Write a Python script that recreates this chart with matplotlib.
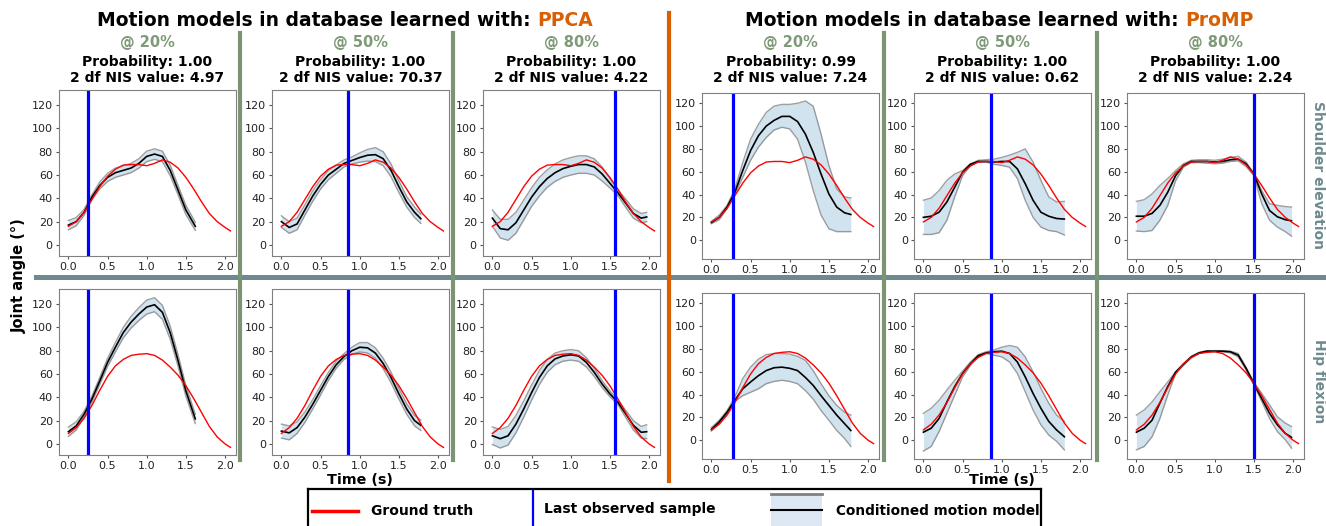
import matplotlib
matplotlib.use("Agg")
import numpy as np
import matplotlib.pyplot as plt
from matplotlib.lines import Line2D
from matplotlib.patches import Rectangle

#%% DATA
t_gt = [0.0, 0.1, 0.2, 0.3, 0.4, 0.5, 0.6, 0.7, 0.8, 0.9, 1.0, 1.1, 1.2, 1.3, 1.4, 1.5, 1.6, 1.7, 1.8, 1.9, 2.0, 2.07]
gt_shoulder = [16, 20, 28, 39, 50, 59, 65, 68.5, 69, 69, 68, 70, 73, 71, 66, 58, 48, 37, 27, 20, 15, 12]
gt_hip = [9, 14, 22, 33, 46, 58, 67, 72.5, 76, 77, 77.5, 76, 72, 66, 59, 50, 39, 27, 15, 6, 0, -3]

t_162 = [0.0, 0.1, 0.2, 0.3, 0.4, 0.5, 0.6, 0.7, 0.8, 0.9, 1.0, 1.1, 1.2, 1.3, 1.4, 1.5, 1.62]
t_178 = [0.0, 0.1, 0.2, 0.3, 0.4, 0.5, 0.6, 0.7, 0.8, 0.9, 1.0, 1.1, 1.2, 1.3, 1.4, 1.5, 1.6, 1.7, 1.78]
t_180 = [0.0, 0.1, 0.2, 0.3, 0.4, 0.5, 0.6, 0.7, 0.8, 0.9, 1.0, 1.1, 1.2, 1.3, 1.4, 1.5, 1.6, 1.7, 1.8]
t_197 = [0.0, 0.1, 0.2, 0.3, 0.4, 0.5, 0.6, 0.7, 0.8, 0.9, 1.0, 1.1, 1.2, 1.3, 1.4, 1.5, 1.6, 1.7, 1.8, 1.9, 1.97]
t_198 = [0.0, 0.1, 0.2, 0.3, 0.4, 0.5, 0.6, 0.7, 0.8, 0.9, 1.0, 1.1, 1.2, 1.3, 1.4, 1.5, 1.6, 1.7, 1.8, 1.9, 1.98]

# PPCA: mean and spread
ppca_sh20_mean = [17, 20, 28, 41, 51, 58, 62, 64, 66, 70, 76, 78, 76, 64, 47, 30, 16]
ppca_sh20_sd = [4, 3.5, 2.5, 2, 3, 3.5, 4, 4, 4, 4, 4.5, 4.5, 4.5, 4.5, 4, 4, 3.5]
ppca_sh50_mean = [20, 15, 18, 30, 42, 52, 60, 65, 70, 72.5, 75, 77, 77.5, 74, 64, 50, 37, 28, 22.5]
ppca_sh50_sd = [5, 5, 5, 4.5, 4.5, 4, 4, 3.5, 3, 3, 4, 5, 6, 6, 5.5, 5, 4.5, 4.5, 4]
ppca_sh80_mean = [23, 14, 13, 19, 30, 41, 50, 57, 62, 65.5, 67.5, 69, 69, 67, 61, 53, 45, 36, 27, 23, 24]
ppca_sh80_sd = [7, 8, 9, 9, 8.5, 8, 8, 7.5, 7.5, 7.5, 7.5, 7.5, 7.5, 7, 6, 4, 2.5, 3.5, 4, 4, 4]
ppca_hip20_mean = [10.5, 15.5, 25.5, 38.5, 54, 70, 83, 95.5, 104.5, 111.5, 117.5, 119.5, 113, 95.5, 71.5, 45.5, 21.5]
ppca_hip20_sd = [4, 3.5, 2.5, 2.5, 3, 3.5, 4, 4.5, 5, 5.5, 6, 6, 6, 5.5, 5, 4.5, 4]
ppca_hip50_mean = [11, 9.5, 14, 23, 34, 46, 58, 68, 75, 80, 83, 82.5, 78, 69, 57, 43, 30, 20, 16]
ppca_hip50_sd = [6, 6, 5, 4.5, 4, 4, 3.5, 3, 2.5, 3, 4, 4.5, 4.5, 4.5, 4.5, 4.5, 4.5, 4.5, 4.5]
ppca_hip80_mean = [7, 4.5, 7, 17, 30, 44, 57, 67, 73, 75.5, 76.5, 75.5, 70, 61.5, 51.5, 43, 36, 26, 16, 10, 10.5]
ppca_hip80_sd = [7.5, 8, 8, 7.5, 7, 6.5, 6, 5.5, 5, 4.5, 4.5, 4.5, 4, 3.5, 3, 2.5, 2, 3, 4, 5, 6]

# ProMP: mean, lower and upper edge
promp_sh20_mean = [15.5, 20, 29, 42, 61, 78.5, 91.5, 100, 105, 108.5, 108.5, 104, 93, 77, 58, 40.5, 29, 24, 22.5]
promp_sh20_hi = [16.5, 22, 30.5, 45, 68, 88.5, 101.5, 112, 117.5, 119, 119, 120, 122, 117.5, 93, 65.5, 45, 38, 37]
promp_sh20_lo = [14.5, 18, 27.5, 40.5, 55, 70, 81.5, 90, 96.5, 99, 97.5, 88.5, 68.5, 43.5, 22, 10, 7.5, 7.5, 7.5]
promp_sh50_mean = [20, 21, 24.5, 33.5, 46.5, 59.5, 66.5, 69, 69, 68.5, 69, 69, 62.5, 49.5, 35, 24.5, 21, 19, 18.5]
promp_sh50_hi = [35, 37, 43.5, 52.5, 58, 61, 67, 70, 70.5, 71, 72.5, 74.5, 77, 80, 68.5, 52.5, 38, 33.5, 34]
promp_sh50_lo = [5, 5, 6.5, 17.5, 38, 56.5, 65.5, 68.5, 68.5, 66.5, 65.5, 64, 54, 35, 20, 11.5, 8.5, 7.5, 4.5]
promp_sh80_mean = [21, 21, 23.5, 30.5, 42, 56.5, 65.5, 69, 69, 69, 68.5, 69, 70.5, 71, 67, 58, 40.5, 26, 20.5, 18, 17]
promp_sh80_hi = [34, 35.5, 40.5, 48, 54, 61, 67, 70, 70.5, 70.5, 70, 71, 72.5, 73.5, 68.5, 58.5, 43.5, 32, 30.5, 29.5, 29]
promp_sh80_lo = [8, 7.5, 8.5, 17.5, 30.5, 52, 64, 68, 68, 67.5, 67, 67.5, 69, 69.5, 64.5, 56.5, 32, 17.5, 11.5, 7.5, 3.5]
promp_hip20_mean = [9.5, 16, 24.5, 35, 45, 51, 56.5, 61, 63.5, 64, 63, 61, 55, 48, 39, 30.5, 22, 14.5, 8.5]
promp_hip20_hi = [11, 17.5, 26, 38, 54, 64, 71, 75, 76, 76, 75.5, 73.5, 70, 61, 49.5, 39, 30.5, 24.5, 22]
promp_hip20_lo = [8, 14.5, 23, 34, 39, 42, 45, 49.5, 51.5, 52.5, 51.5, 49.5, 43.5, 36, 26, 17.5, 8.5, 1.5, -5.5]
promp_hip50_mean = [7, 10.5, 19, 33.5, 47, 58.5, 67, 74, 76.5, 77.5, 78, 76, 68.5, 55.5, 41, 28, 16.5, 9, 3]
promp_hip50_hi = [23.5, 28, 35, 44, 52.5, 60.5, 68.5, 75, 77.5, 79, 81.5, 83, 81.5, 73, 60, 45.5, 32.5, 22, 16.5]
promp_hip50_lo = [-9.5, -5.5, 7.5, 23.5, 39.5, 55.5, 65.5, 73, 76, 74.5, 73, 68.5, 58.5, 42.5, 26.5, 13.5, 4.5, -1, -8.5]
promp_hip80_mean = [7, 10.5, 17.5, 32.5, 47, 59.5, 66.5, 73, 76.5, 78, 78, 78, 77.5, 74.5, 63, 49.5, 36.5, 23.5, 13.5, 6, 2.5]
promp_hip80_hi = [22, 26.5, 33.5, 42.5, 51, 60, 67, 73.5, 77, 78.5, 78.5, 78.5, 78, 76, 64, 51, 41, 31, 20.5, 15, 12]
promp_hip80_lo = [-8.5, -5.5, 3, 19, 39.5, 58.5, 65.5, 72, 76, 77.5, 77.5, 77.5, 76.5, 73, 61.5, 48.5, 34, 19, 7.5, 0.5, -7]

percent_labels = ["@ 20%", "@ 50%", "@ 80%", "@ 20%", "@ 50%", "@ 80%"]
probabilities = ["1.00", "1.00", "1.00", "0.99", "1.00", "1.00"]
nis_values = ["4.97", "70.37", "4.22", "7.24", "0.62", "2.24"]
last_observed = [0.25, 0.85, 1.57, 0.28, 0.86, 1.505]

#%% build panels (row 0 shoulder, row 1 hip)
def ppca(mean, sd):
    mean = np.array(mean, float)
    sd = np.array(sd, float)
    return mean, mean - sd, mean + sd

panels = [
    [(t_162,) + ppca(ppca_sh20_mean, ppca_sh20_sd),
     (t_178,) + ppca(ppca_sh50_mean, ppca_sh50_sd),
     (t_197,) + ppca(ppca_sh80_mean, ppca_sh80_sd),
     (t_178, promp_sh20_mean, promp_sh20_lo, promp_sh20_hi),
     (t_180, promp_sh50_mean, promp_sh50_lo, promp_sh50_hi),
     (t_198, promp_sh80_mean, promp_sh80_lo, promp_sh80_hi)],
    [(t_162,) + ppca(ppca_hip20_mean, ppca_hip20_sd),
     (t_178,) + ppca(ppca_hip50_mean, ppca_hip50_sd),
     (t_197,) + ppca(ppca_hip80_mean, ppca_hip80_sd),
     (t_178, promp_hip20_mean, promp_hip20_lo, promp_hip20_hi),
     (t_180, promp_hip50_mean, promp_hip50_lo, promp_hip50_hi),
     (t_198, promp_hip80_mean, promp_hip80_lo, promp_hip80_hi)],
]
ground_truth = [gt_shoulder, gt_hip]

#%% LAYOUT
W, H = 1326, 526
def fx(px):
    return px / W
def fy(py):
    return 1 - py / H

green = "#7d9474"
orange = "#d95f02"
teal = "#6d8a8e"

fig = plt.figure(figsize=(W / 100, H / 100), dpi=100)

panel_left = [59, 272, 483, 702, 914, 1127]
panel_w = 177
row_top = [[90, 93], [289, 293]]   # [row][left half / right half]
panel_h = 166

for r in range(2):
    for c in range(6):
        half = 0 if c < 3 else 1
        top = row_top[r][half]
        ax = fig.add_axes([fx(panel_left[c]), fy(top + panel_h), panel_w / W, panel_h / H])
        t, mean, lo, hi = panels[r][c]
        ax.fill_between(t, lo, hi, color="#1f77b4", alpha=0.2, lw=0)
        ax.plot(t, lo, color="gray", lw=1, alpha=0.75)
        ax.plot(t, hi, color="gray", lw=1, alpha=0.75)
        ax.plot(t, mean, color="black", lw=1.2)
        ax.plot(t_gt, ground_truth[r], color="red", lw=1)
        ax.axvline(last_observed[c], color="blue", lw=2.3)
        ax.set_xlim(-0.12, 2.14)
        if half == 0:
            ax.set_ylim(-9.5, 133)
        else:
            ax.set_ylim(-16.5, 129)
        ax.set_xticks([0.0, 0.5, 1.0, 1.5, 2.0])
        ax.set_xticklabels(["0.0", "0.5", "1.0", "1.5", "2.0"])
        ax.set_yticks([0, 20, 40, 60, 80, 100, 120])
        ax.tick_params(labelsize=8, length=2.5, pad=2, color="#555555", labelcolor="#222222")
        for s in ax.spines.values():
            s.set_color("#808080")
        if r == 0:
            cx = fx(panel_left[c] + panel_w / 2)
            fig.text(cx, fy(43), percent_labels[c], color="#7f9a78", fontsize=10.5,
                     weight="bold", ha="center", va="center")
            fig.text(cx, fy(62), "Probability: " + probabilities[c], fontsize=10,
                     weight="bold", ha="center", va="center")
            fig.text(cx, fy(78), "2 df NIS value: " + nis_values[c], fontsize=10,
                     weight="bold", ha="center", va="center")

#%% separators
for x in [240, 453, 884, 1097]:
    fig.add_artist(Line2D([fx(x), fx(x)], [fy(33), fy(460)], transform=fig.transFigure,
                          color=green, lw=3, zorder=5))
fig.add_artist(Line2D([fx(36), fx(1326)], [fy(277), fy(277)], transform=fig.transFigure,
                      color=teal, lw=3.6, zorder=4))
fig.add_artist(Line2D([fx(669), fx(669)], [fy(13), fy(481)], transform=fig.transFigure,
                      color=orange, lw=3, zorder=6))

#%% texts
fig.text(fx(19), fy(276), "Joint angle (°)", rotation=90, fontsize=10.5, weight="bold",
         ha="center", va="center")
fig.text(fx(360), fy(480), "Time (s)", fontsize=10.3, weight="bold", ha="center", va="center")
fig.text(fx(1002), fy(480), "Time (s)", fontsize=10.3, weight="bold", ha="center", va="center")
fig.text(fx(1318), fy(175), "Shoulder elevation", rotation=-90, color=teal, fontsize=10,
         weight="bold", ha="center", va="center")
fig.text(fx(1319), fy(381), "Hip flexion", rotation=-90, color=teal, fontsize=10,
         weight="bold", ha="center", va="center")

renderer = fig.canvas.get_renderer()
for x0, method in [(97, "PPCA"), (745, "ProMP")]:
    t1 = fig.text(fx(x0), fy(20), "Motion models in database learned with: ", fontsize=13.5,
                  weight="bold", ha="left", va="center")
    bb = t1.get_window_extent(renderer=renderer)
    fig.text(bb.x1 / W, fy(20), method, color=orange, fontsize=13.5, weight="bold",
             ha="left", va="center")

#%% legend box (drawn by hand, it is cut by the bottom edge)
lax = fig.add_axes([fx(308), 0, (1041 - 308) / W, 1 - 489 / H])
lax.set_xlim(308, 1041)
lax.set_ylim(526, 489)
lax.set_xticks([])
lax.set_yticks([])
lax.spines["bottom"].set_visible(False)
for side in ["top", "left", "right"]:
    lax.spines[side].set_color("black")
    lax.spines[side].set_linewidth(1.6)
lax.plot([312, 358], [511, 511], color="red", lw=2.5)
lax.text(371, 511, "Ground truth", fontsize=10, weight="bold", va="center")
lax.plot([533, 533], [491, 527], color="blue", lw=1.6)
lax.text(544, 509, "Last observed sample", fontsize=10, weight="bold", va="center")
lax.add_patch(Rectangle((771, 494), 51, 33, facecolor="#dde8f4", edgecolor="none"))
lax.plot([771, 822], [494, 494], color="gray", lw=2)
lax.plot([771, 822], [510, 510], color="black", lw=1.5)
lax.text(836, 511, "Conditioned motion model", fontsize=9.8, weight="bold", va="center")

fig.savefig("out.png", dpi=100)
